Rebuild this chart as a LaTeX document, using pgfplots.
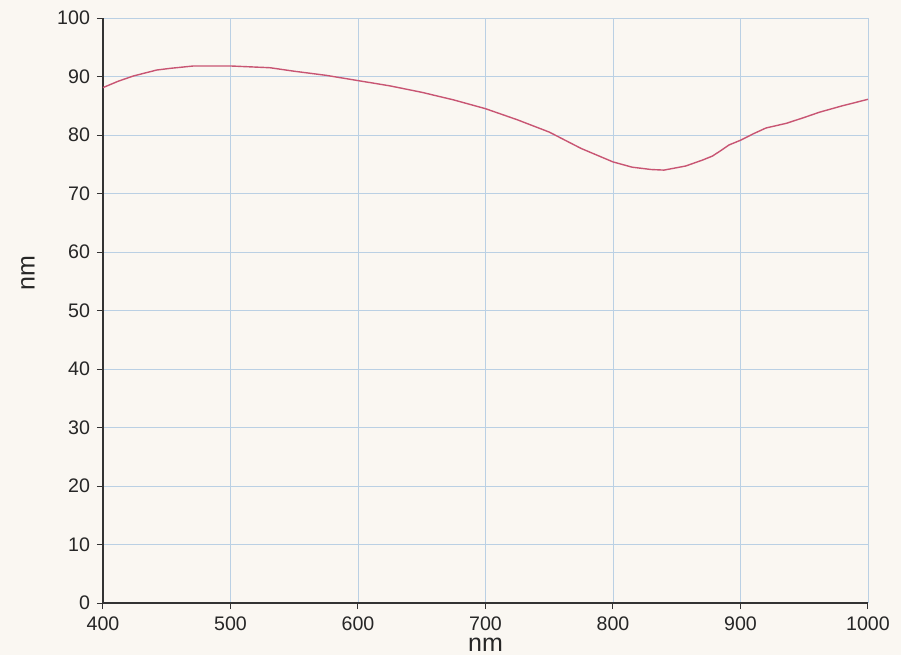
\documentclass[border=0pt]{standalone}
\usepackage{pgfplots}
\pgfplotsset{compat=1.18}
\usepackage{fontspec}
\setmainfont{Liberation Sans}
\definecolor{paper}{RGB}{250,247,242}
\definecolor{gridblue}{RGB}{186,208,228}
\definecolor{curve}{RGB}{200,85,115}
\begin{document}
\begin{tikzpicture}
\useasboundingbox (-51.5pt,-26pt) rectangle (399pt,301.5pt);
\fill[paper] (-51.5pt,-26pt) rectangle (399pt,301.5pt);
\begin{axis}[
  at={(0pt,0pt)}, anchor=south west,
  scale only axis, width=382.5pt, height=292.5pt,
  xmin=400, xmax=1000, ymin=0, ymax=100,
  xtick={400,500,...,1000}, ytick={0,10,...,100},
  axis lines=left,
  axis line style={-, black!80, line width=0.6pt},
  tick align=outside,
  major tick length=3pt,
  tick style={black!80, line width=0.5pt},
  grid=major,
  major grid style={gridblue, line width=0.45pt},
  /pgf/number format/1000 sep={},
  /pgf/number format/assume math mode=true,
  tick label style={font=\fontsize{9.8}{11}\selectfont, text=black!85},
  xticklabel style={yshift=-0.5pt},
  label style={font=\fontsize{12.5}{14}\selectfont, text=black!85},
  xlabel={nm}, ylabel={nm},
  xlabel style={at={(axis description cs:0.5,-0.072)}, anchor=center},
  ylabel style={at={(axis description cs:-0.098,0.564)}, anchor=center},
  clip=false,
]
\addplot[curve, line width=0.7pt] coordinates {
(400,88.1) (412,89.2) (424,90.1) (442,91.1) (453,91.4) (471,91.8)
(500,91.8) (531,91.5) (550,90.9) (575,90.2) (600,89.3) (625,88.4)
(650,87.3) (675,86.0) (700,84.5) (725,82.6) (750,80.5) (775,77.7)
(800,75.4) (815,74.5) (830,74.1) (840,74.0) (857,74.7) (870,75.7)
(878,76.4) (885,77.4) (891,78.3) (900,79.1) (910,80.2) (920,81.2)
(936,82.0) (950,83.0) (962,83.9) (980,85.0) (1000,86.1)
};
\end{axis}
\end{tikzpicture}
\end{document}
